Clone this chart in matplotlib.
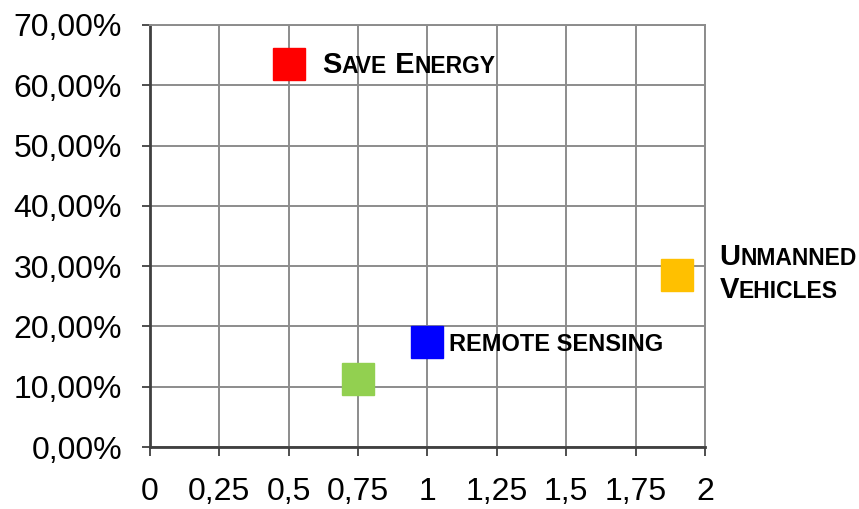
import matplotlib
matplotlib.use("Agg")
import matplotlib.pyplot as plt
from matplotlib.ticker import FuncFormatter

# data
x_vals = [0.5, 0.75, 1.0, 1.9]
y_vals = [0.635, 0.113, 0.174, 0.285]
colors = ["#FF0000", "#92D050", "#0000FF", "#FFC000"]

x_ticks = [0, 0.25, 0.5, 0.75, 1, 1.25, 1.5, 1.75, 2]
y_ticks = [0, 0.1, 0.2, 0.3, 0.4, 0.5, 0.6, 0.7]

plt.rcParams['font.family'] = ['Liberation Sans', 'DejaVu Sans']

fig = plt.figure(figsize=(8.59, 5.09), dpi=100)
ax = fig.add_axes([0.1746, 0.1218, 0.8207 - 0.1746, 0.951 - 0.1218])

for x, y, c in zip(x_vals, y_vals, colors):
    ax.plot([x], [y], marker='s', markersize=23, color=c, linestyle='none', zorder=3)

ax.set_xlim(0, 2)
ax.set_ylim(0, 0.7)
ax.set_xticks(x_ticks)
ax.set_yticks(y_ticks)
ax.xaxis.set_major_formatter(FuncFormatter(lambda v, p: ('%g' % v).replace('.', ',')))
ax.yaxis.set_major_formatter(FuncFormatter(lambda v, p: ('%.2f%%' % (v * 100)).replace('.', ',')))
ax.tick_params(axis='x', labelsize=23, length=6.5, width=1.3, color='#404040', pad=15)
ax.tick_params(axis='y', labelsize=23, length=6, width=1.3, color='#404040', pad=14)

ax.grid(True, color='#8c8c8c', linewidth=1.4)
ax.set_axisbelow(True)
for s in ['top', 'right']:
    ax.spines[s].set_color('#8c8c8c')
    ax.spines[s].set_linewidth(1.4)
for s in ['left', 'bottom']:
    ax.spines[s].set_color('#404040')
    ax.spines[s].set_linewidth(2)


def small_caps(x, y, pieces):
    # pieces: list of (text, fontsize); drawn one after another on one baseline
    t = ax.text(x, y, pieces[0][0], fontsize=pieces[0][1], fontweight='bold',
                va='baseline', ha='left', clip_on=False)
    for txt, size in pieces[1:]:
        t = ax.annotate(txt, xy=(1, y), xycoords=(t, 'data'), fontsize=size,
                        fontweight='bold', va='baseline', ha='left',
                        annotation_clip=False)


big, small = 21, 16.5
small_caps(0.62, 0.620, [("S", big), ("AVE", small), (" E", big), ("NERGY", small)])
small_caps(1.077, 0.159, [("REMOTE SENSING", 17)])
small_caps(2.052, 0.302, [("U", big), ("NMANNED", small)])
small_caps(2.052, 0.247, [("V", big), ("EHICLES", small)])

fig.savefig("out.png", dpi=100)
